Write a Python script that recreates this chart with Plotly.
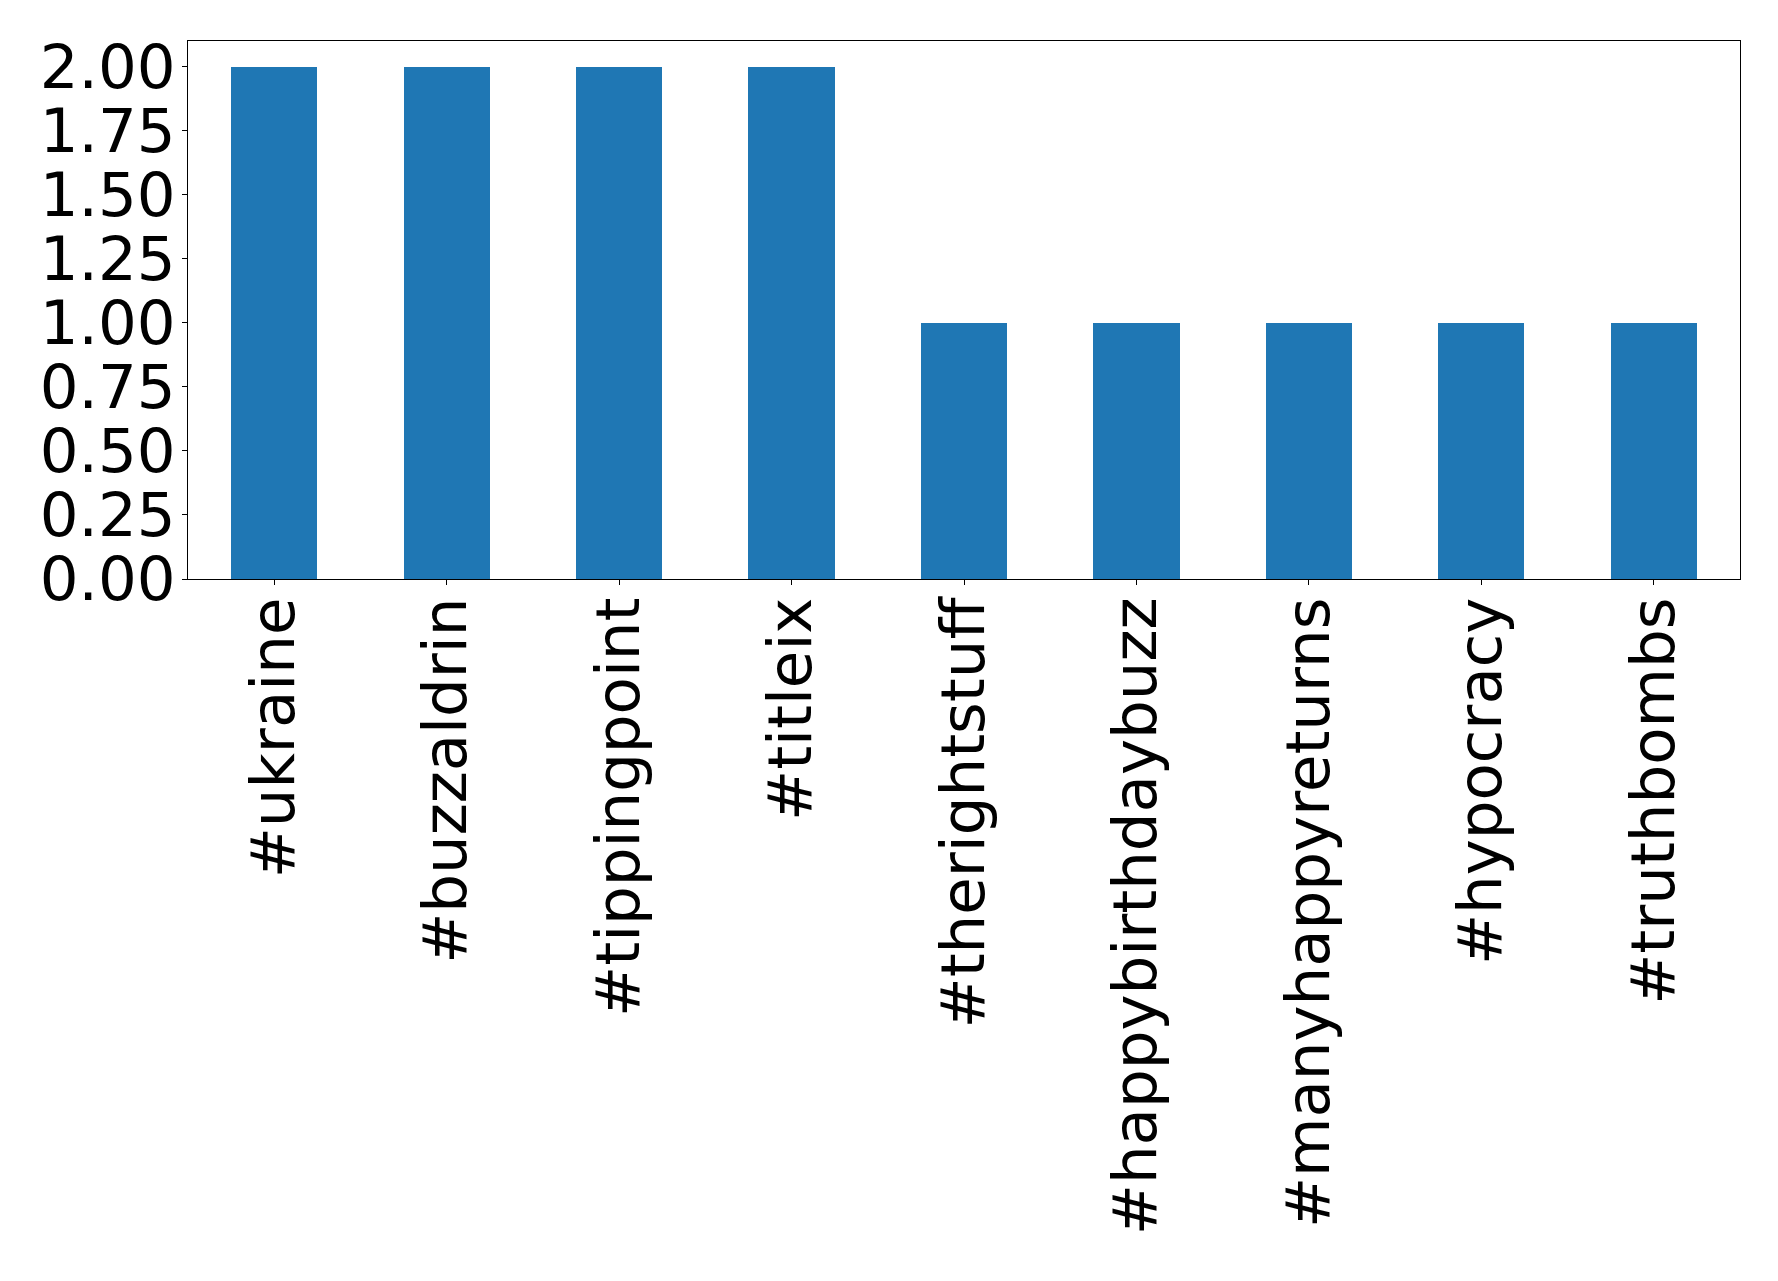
import plotly.graph_objects as go

categories = ["#ukraine", "#buzzaldrin", "#tippingpoint", "#titleix", "#therightstuff",
              "#happybirthdaybuzz", "#manyhappyreturns", "#hypocracy", "#truthbombs"]
counts = [2, 2, 2, 2, 1, 1, 1, 1, 1]
ytick_vals = [0, 0.25, 0.5, 0.75, 1.0, 1.25, 1.5, 1.75, 2.0]
ytick_text = ["0.00", "0.25", "0.50", "0.75", "1.00", "1.25", "1.50", "1.75", "2.00"]

fig = go.Figure(go.Bar(x=list(range(len(categories))), y=counts, width=0.5,
                       marker=dict(color="#1f77b4", line=dict(width=0))))

fig.update_layout(
    width=1778, height=1281,
    margin=dict(l=180, r=46, t=33, b=710),
    paper_bgcolor="white", plot_bgcolor="white",
    font=dict(family="DejaVu Sans", size=61, color="black"),
    showlegend=False,
    bargap=0,
)
fig.update_xaxes(
    range=[-0.5, len(categories) - 0.5],
    tickmode="array", tickvals=list(range(len(categories))), ticktext=categories,
    tickangle=-90, ticks="outside", ticklen=5, tickwidth=1.2, tickcolor="black",
    ticklabelstandoff=-12,
    showline=True, linecolor="black", linewidth=1.3, mirror=True,
    showgrid=False, zeroline=False,
)
fig.update_yaxes(
    range=[0, 2.1],
    tickmode="array", tickvals=ytick_vals, ticktext=ytick_text,
    ticks="outside", ticklen=5, tickwidth=1.2, tickcolor="black",
    ticklabelstandoff=-6,
    showline=True, linecolor="black", linewidth=1.3, mirror=True,
    showgrid=False, zeroline=False,
)
fig.write_html("out.html")
